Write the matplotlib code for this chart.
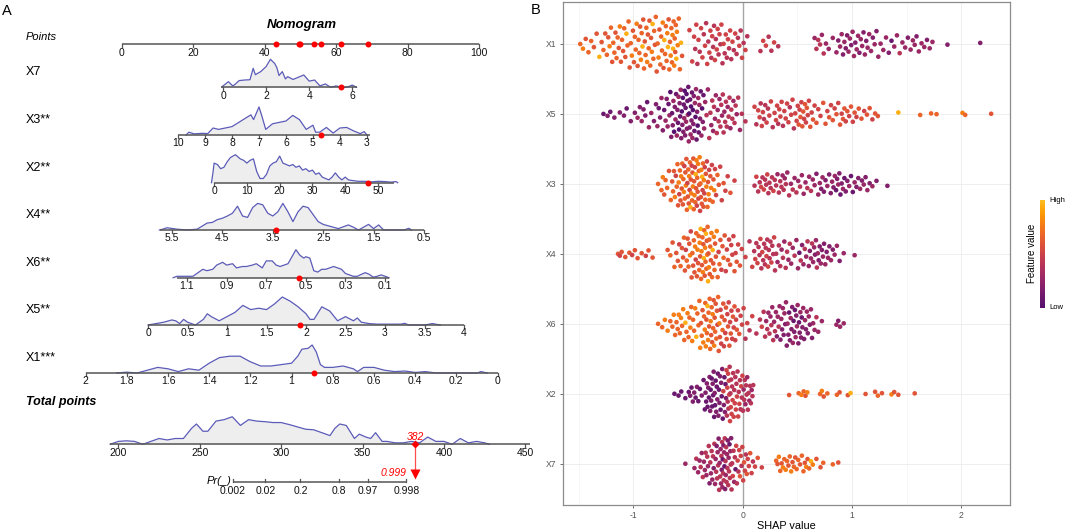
import numpy as np
import matplotlib.pyplot as plt
from matplotlib.colors import ListedColormap, Normalize
from matplotlib.colorbar import ColorbarBase

plt.rcParams['font.family'] = ['Liberation Sans', 'DejaVu Sans']
plt.rcParams['axes.unicode_minus'] = False

# ---------------- nomogram (panel A) ----------------
# each scale: (value, points) at two ends, ticks, drawn range, density, observed value
x7_anchor = [(0, 28.3), (6, 64.5)]
x7_ticks = [0, 2, 4, 6]
x7_range = (-0.1, 6.2)
x7_value = 5.46
x7_density = [(-0.05, 0), (0, .05), (.25, .2), (.45, .05), (.55, .1), (.75, .24), (1.0, .26), (1.25, .27),
              (1.4, .68), (1.5, .45), (1.75, .56), (2.0, .74), (2.2, 1.0), (2.4, .85), (2.5, .7), (2.6, .42),
              (2.75, .56), (2.9, .3), (3.0, .38), (3.25, .28), (3.5, .36), (3.75, .44), (4.0, .22), (4.25, .26),
              (4.5, .05), (4.75, .12), (5.0, 0), (5.25, .05), (5.5, 0), (5.75, 0), (6.0, .08), (6.2, 0)]

x3_anchor = [(10, 15.7), (3, 68.6)]
x3_ticks = [10, 9, 8, 7, 6, 5, 4, 3]
x3_range = (10, 2.9)
x3_value = 4.7
x3_density = [(9.7, 0), (9.6, .1), (9.4, .04), (9.1, .06), (8.9, .05), (8.7, .25), (8.5, .2), (8.25, .25),
              (8.0, .3), (7.75, .45), (7.5, .6), (7.3, .72), (7.2, .55), (7.0, 1.0), (6.9, .7), (6.75, .2),
              (6.5, .4), (6.25, .45), (6.0, .5), (5.75, .7), (5.5, .55), (5.25, .2), (5.0, .35), (4.9, .1),
              (4.75, .1), (4.5, .27), (4.25, .07), (4.0, .25), (3.75, .27), (3.5, .15), (3.25, .05),
              (3.1, .12), (3.0, 0)]

x2_anchor = [(0, 25.8), (50, 71.7)]
x2_ticks = [0, 10, 20, 30, 40, 50]
x2_range = (0, 55)
x2_value = 47.0
x2_density = [(-0.8, 0), (-0.3, .4), (0, .7), (1, .65), (2, .5), (3, .55), (4, .75), (5, .9), (6.5, 1.0),
              (8, .85), (9, .8), (10, .7), (11, .8), (12, .85), (13, .4), (14, .15), (15, .15), (16, .3),
              (17, .6), (18, .7), (19, .75), (20, .95), (21, .7), (22, .65), (23, .6), (24, .65), (25, .55),
              (26, .6), (27, .45), (28, .5), (29, .4), (30, .45), (31, .3), (32, .35), (33, .2), (34, .15),
              (35, .1), (36, .2), (37, .35), (38, .2), (39, .1), (40, .2), (41, .1), (42, .08), (44, .05),
              (46, .05), (48, .03), (50, .05), (52, .04), (54, .02), (55.5, .04), (56, 0)]

x4_anchor = [(5.5, 14.0), (0.5, 84.6)]
x4_ticks = [5.5, 4.5, 3.5, 2.5, 1.5, 0.5]
x4_range = (5.73, 0.5)
x4_value = 3.44
x4_density = [(5.75, 0), (5.7, .02), (5.6, .08), (5.4, .03), (5.2, 0), (5.0, .03), (4.8, .25), (4.7, .27),
              (4.6, .37), (4.5, .42), (4.4, .5), (4.3, .6), (4.2, .85), (4.1, .5), (4.0, .45), (3.9, .8),
              (3.8, .95), (3.7, .9), (3.6, .6), (3.5, .5), (3.4, .65), (3.3, .95), (3.2, .65), (3.1, .3),
              (3.0, .65), (2.9, .85), (2.8, .8), (2.7, .55), (2.6, .3), (2.5, .2), (2.4, .15), (2.2, .05),
              (2.0, .18), (1.9, .1), (1.8, 0), (1.7, .1), (1.6, .2), (1.5, .05), (1.4, .18), (1.3, 0),
              (0.9, 0), (0.8, .06), (0.75, 0)]

x6_anchor = [(1.1, 18.2), (0.1, 73.7)]
x6_ticks = [1.1, 0.9, 0.7, 0.5, 0.3, 0.1]
x6_range = (1.15, 0.08)
x6_value = 0.535
x6_density = [(1.17, 0), (1.15, .05), (1.1, .05), (1.07, .05), (1.05, .15), (1.02, .3), (1.0, .25),
              (0.97, .3), (0.95, .45), (0.92, .55), (0.9, .45), (0.87, .5), (0.85, .35), (0.82, .4),
              (0.8, .4), (0.77, .45), (0.75, .5), (0.72, .35), (0.7, .6), (0.67, .6), (0.65, .45),
              (0.63, .4), (0.61, .45), (0.59, .5), (0.57, .75), (0.55, 1.0), (0.53, .8), (0.51, .7),
              (0.5, .75), (0.48, .7), (0.46, .25), (0.44, .2), (0.42, .3), (0.4, .3), (0.38, .35),
              (0.36, .4), (0.34, .35), (0.32, .3), (0.3, .15), (0.28, .1), (0.26, .05), (0.24, .05),
              (0.22, .12), (0.2, .18), (0.18, .12), (0.16, .02), (0.14, .05), (0.12, .1), (0.1, .05), (0.08, 0)]

x5_anchor = [(0, 7.3), (4, 95.8)]
x5_ticks = [0, 0.5, 1, 1.5, 2, 2.5, 3, 3.5, 4]
x5_range = (0, 4)
x5_value = 1.92
x5_density = [(0, 0), (0.1, .05), (0.2, .1), (0.3, .18), (0.35, .15), (0.4, .05), (0.45, .2), (0.5, .1),
              (0.6, 0), (0.7, .2), (0.75, .4), (0.8, .3), (0.9, .15), (1.0, .3), (1.1, .45), (1.2, .7),
              (1.3, .55), (1.4, .6), (1.5, .55), (1.6, .75), (1.7, 1.0), (1.8, .85), (1.9, .65), (2.0, .4),
              (2.05, .2), (2.1, .2), (2.2, .65), (2.3, .5), (2.4, .15), (2.5, .3), (2.6, .15), (2.65, .25),
              (2.7, .1), (2.8, .05), (2.9, .03), (3.0, .03), (3.2, .03), (3.25, .06), (3.3, 0), (3.5, 0),
              (3.6, .05), (3.7, 0)]

x1_anchor = [(2, -10.2), (0, 105.2)]
x1_ticks = [2, 1.8, 1.6, 1.4, 1.2, 1, 0.8, 0.6, 0.4, 0.2, 0]
x1_range = (2, 0)
x1_value = 0.89
x1_density = [(1.85, 0), (1.8, .03), (1.75, 0), (1.7, .1), (1.65, .2), (1.6, .15), (1.55, .05), (1.5, .15),
              (1.45, .1), (1.4, .35), (1.35, .55), (1.3, .6), (1.25, .6), (1.2, .4), (1.15, .25), (1.1, .25),
              (1.05, .3), (1.0, .35), (0.97, .6), (0.95, .85), (0.92, .88), (0.9, 1.0), (0.88, .75),
              (0.86, .3), (0.84, .2), (0.8, .2), (0.75, .25), (0.7, .15), (0.68, .05), (0.65, .2), (0.6, .2),
              (0.55, .1), (0.5, .05), (0.45, .07), (0.4, .02), (0.35, .05), (0.3, 0), (0.1, 0), (0.08, .05),
              (0.05, 0)]

total_anchor = [(200, -1.04), (450, 113.0)]
total_ticks = [200, 250, 300, 350, 400, 450]
total_range = (195, 460)
total_density = [(195, 0), (200, .1), (205, .12), (210, .1), (215, 0), (220, .1), (225, .2), (230, .15),
                 (235, .2), (240, .2), (245, .55), (248, .7), (252, .45), (255, .45), (260, .8), (265, .85),
                 (270, .95), (275, .65), (280, .85), (285, .8), (290, .78), (295, .75), (300, .75),
                 (305, .68), (310, .6), (315, .52), (320, .5), (325, .4), (330, .3), (333, .55), (336, .7),
                 (340, .65), (345, .2), (348, .35), (352, .25), (355, .2), (358, .4), (362, .1), (365, .1),
                 (370, .05), (375, .05), (380, .1), (385, .05), (390, .25), (395, .1), (400, .1), (405, 0),
                 (410, .2), (415, .05), (420, .1), (425, .05), (428, 0)]

# total points -> linear predictor (logit)
pr_center = 323.7
pr_slope = 8.57
pr_ticks = [0.002, 0.02, 0.2, 0.8, 0.97, 0.998]

var_labels = ['X7', 'X3**', 'X2**', 'X4**', 'X6**', 'X5**', 'X1***']

# ---------------- SHAP beeswarm (panel B) ----------------
# one string per 0.05 bin of SHAP value, one digit per observation = feature level (0 low .. 9 high)
shap_features = ['X1', 'X5', 'X3', 'X4', 'X6', 'X2', 'X7']
feature_levels = [0.0, 0.08, 0.18, 0.28, 0.40, 0.50, 0.60, 0.67, 0.77, 0.95]
x1_start = -1.50
x1_bins = ['78', '67', '76', '69', '676', '7687', '67767', '76867', '67697', '76786', '677867', '7687967',
           '6778676', '7689776', '767867', '7786977', '78967787', '7897876798', '87796', '', '55', '54545',
           '4554', '54545', '545445', '455454', '54545', '45454', '5454', '4545', '454', '', '', '45', '54',
           '45', '4', '', '', '', '', '', '', '344', '434', '33', '3', '323', '3232', '2332', '3323', '3233',
           '2323', '332', '323', '33', '32', '13', '34', '33', '23', '332', '33', '32', '33', '', '', '2',
           '', '', '', '', '', '2']
x5_start = -1.30
x5_bins = ['1', '21', '2', '2', '21', '2', '23', '232', '213', '32', '2312', '3213', '231302', '12302313',
           '2130213202', '021302130213', '130213021302', '2130312031', '32130213', '3434', '434343',
           '343434', '4344344', '434434', '43443', '434', '4', '', '545', '54554', '4545', '545', '55455',
           '5455', '5545', '5455', '565656', '656565', '5656', '565', '56', '656', '565', '656', '5665',
           '656', '565', '66', '56', '65', '66', '', '', '', '9', '', '', '', '7', '', '7', '7', '', '', '',
           '', '87', '', '', '', '', '6']
x3_start = -0.80
x3_bins = ['7', '7867', '767', '676857', '768576867', '67857686756', '7685796857686', '76857968576857',
           '6857686957685', '5768576857', '6857685', '5765', '565', '56', '5', '', '', '', '454', '4545',
           '44544', '4454', '4344', '43434', '343', '434', '343', '334', '343', '323', '3232', '232',
           '2323', '12321', '2312', '231', '132', '232', '323', '23', '2', '', '2']
x4_start = -1.15
x4_bins = ['656', '6', '65', '66', '6', '56', '6', '', '', '67', '676', '6576', '676576', '7685676',
           '768576867', '786978678697', '6879768796876', '768796876', '687576', '56765', '56565', '55656',
           '565', '5', '45', '45454', '454544', '4454544', '454454', '4344', '3434', '4343', '343', '3142',
           '3434', '32343', '323432', '23232', '3232', '323', '32', '3', '', '3']
x6_start = -0.80
x6_bins = ['7', '78', '87', '7877', '78787', '87978', '778787', '78977', '7867687', '8786798767',
           '78676876867', '676576865', '56765656', '65656565', '5656556', '5655', '545', '45', '4', '454',
           '43434', '343434', '323432', '3232323', '2321232', '23121323', '32123212', '323232', '32323',
           '343', '3', '', '', '323', '3']
x2_start = -0.65
x2_bins = ['1', '11', '1', '1212', '2121', '121', '12121212', '21211212121', '1212121221', '2121521212',
           '54545455454545', '4545454545', '454544545', '434434434', '4344344', '', '', '', '', '', '',
           '6', '', '78', '768', '', '', '786', '7', '', '76', '', '69', '', '', '6', '', '67', '6', '',
           '86', '6', '', '', '6']
x7_start = -0.55
x7_bins = ['3', '', '343', '34343', '3434342', '43434243', '34243424343', '3424314243142434',
           '4342434143424', '45434154', '5456545', '565465', '5654', '56', '5', '', '', '7687', '6878',
           '7678', '6767', '767', '7686', '798', '6', '67', '', '7', '6']
shap_bin_width = 0.05

shap_data = [(x1_start, x1_bins), (x5_start, x5_bins), (x3_start, x3_bins), (x4_start, x4_bins),
             (x6_start, x6_bins), (x2_start, x2_bins), (x7_start, x7_bins)]

# ================= figure =================
W, H = 1068, 530
fig = plt.figure(figsize=(W / 100, H / 100), dpi=100)

# ---- panel A: single axes, x in "Points" units, y in pixel rows ----
axl = fig.add_axes([0, 0, 530 / W, 1])
axl.set_xlim(-122 / 3.57, 408 / 3.57)
axl.set_ylim(H, 0)
axl.axis('off')

line_col = '#555555'
dens_col = '#5b5bb8'
fill_col = '#eeeeee'
red = '#ff0000'


def to_pts(anchor, v):
    (v0, p0), (v1, p1) = anchor
    return p0 + (np.asarray(v, dtype=float) - v0) * (p1 - p0) / (v1 - v0)


def fmt(v):
    return f'{v:g}'


def draw_scale(anchor, ticks, rng, base, density=None, height=28, tick_dir=1):
    xa, xb = to_pts(anchor, rng[0]), to_pts(anchor, rng[1])
    if density is not None:
        dv = np.array([d[0] for d in density])
        dh = np.array([d[1] for d in density])
        xs = to_pts(anchor, dv)
        axl.fill_between(xs, base - height * dh, base, color=fill_col, lw=0, zorder=1)
        axl.plot(xs, base - height * dh, color=dens_col, lw=0.9, zorder=2)
    axl.plot([xa, xb], [base, base], color=line_col, lw=1.1, zorder=3, solid_capstyle='butt')
    for t in ticks:
        xt = to_pts(anchor, t)
        axl.plot([xt, xt], [base, base + 3 * tick_dir], color=line_col, lw=0.9, zorder=3)
        axl.text(xt, base + 8.3, fmt(t), ha='center', va='center', fontsize=7.5, color='#111111')


label_x = -122 / 3.57 + 26 / 3.57
axl.text(301.7 / 3.57 - 122 / 3.57, 25, 'Nomogram', ha='center', va='center', fontsize=9.5,
         fontweight='bold', fontstyle='italic')
axl.text(label_x, 37.5, 'Points', ha='left', va='center', fontsize=8, fontstyle='italic')

points_anchor = [(0, 0), (100, 100)]
draw_scale(points_anchor, [0, 20, 40, 60, 80, 100], (0, 100), 44.3)

scales = [
    (x7_anchor, x7_ticks, x7_range, x7_value, x7_density),
    (x3_anchor, x3_ticks, x3_range, x3_value, x3_density),
    (x2_anchor, x2_ticks, x2_range, x2_value, x2_density),
    (x4_anchor, x4_ticks, x4_range, x4_value, x4_density),
    (x6_anchor, x6_ticks, x6_range, x6_value, x6_density),
    (x5_anchor, x5_ticks, x5_range, x5_value, x5_density),
    (x1_anchor, x1_ticks, x1_range, x1_value, x1_density),
]
row_base = [87.3, 135, 182.7, 230, 277.7, 325, 373]

points_obs = []
for (anchor, ticks, rng, val, dens), base, lab in zip(scales, row_base, var_labels):
    draw_scale(anchor, ticks, rng, base, density=dens)
    axl.text(label_x, base - 15, lab, ha='left', va='center', fontsize=9)
    p = float(to_pts(anchor, val))
    points_obs.append(p)
    axl.plot(p, base, 'o', color=red, ms=4.3, mec='none', zorder=5)

for p in points_obs:
    axl.plot(p, 44.3, 'o', color=red, ms=4.3, mec='none', zorder=5)

# total points
total = sum(points_obs)
axl.text(label_x, 401.7, 'Total points', ha='left', va='center', fontsize=9,
         fontweight='bold', fontstyle='italic')
draw_scale(total_anchor, total_ticks, total_range, 444.3, density=total_density, height=29)
xt_total = float(to_pts(total_anchor, total))
axl.plot(xt_total, 444.3, 'D', color=red, ms=4.5, mec='none', zorder=6)
axl.text(xt_total, 437, f'{total:.0f}', color=red, fontsize=7.5, fontstyle='italic',
         ha='center', va='center', zorder=7)


# probability axis (logit spacing)
def pr_to_x(p):
    p = np.asarray(p, dtype=float)
    return to_pts(total_anchor, pr_center + pr_slope * np.log(p / (1 - p)))


pr_base = 482.3
xa, xb = pr_to_x(pr_ticks[0]), pr_to_x(pr_ticks[-1])
axl.plot([xa, xb], [pr_base, pr_base], color=line_col, lw=1.1, solid_capstyle='butt')
for t in pr_ticks:
    xt = float(pr_to_x(t))
    axl.plot([xt, xt], [pr_base, pr_base - 3], color=line_col, lw=0.9)
    axl.text(xt, pr_base + 8.5, fmt(t), ha='center', va='center', fontsize=7.5, color='#111111')
axl.annotate('Pr(_)', (xa, 480.5), xytext=(-1, 0), textcoords='offset points',
             ha='right', va='center', fontsize=8, fontstyle='italic')

prob = 1 / (1 + np.exp(-(total - pr_center) / pr_slope))
axl.plot([xt_total, xt_total], [444.3, 471], color='#ff4d4d', lw=0.9, zorder=5)
axl.plot(xt_total, 474, 'v', color=red, ms=6.5, mec='none', zorder=6)
axl.annotate(f'{prob:.3f}', (xt_total, 473.5), xytext=(-6, 0), textcoords='offset points',
             color=red, fontsize=7.5, fontstyle='italic', ha='right', va='center')

fig.text(2 / W, 1 - 11 / H, 'A', fontsize=10.5, ha='left', va='center')
fig.text(531 / W, 1 - 10 / H, 'B', fontsize=10.5, ha='left', va='center')

# ---- panel B: SHAP beeswarm (quasirandom spread scaled by density) ----
axr = fig.add_axes([562.5 / W, 25 / H, 447 / W, 503 / H])
bee_width = 0.4

cmap = ListedColormap(plt.cm.inferno(np.linspace(0.25, 0.85, 256)))


def van_der_corput(n, base=2):
    seq = np.zeros(n)
    for i in range(n):
        k, f, r = i + 1, 1.0, 0.0
        while k > 0:
            f /= base
            r += f * (k % base)
            k //= base
        seq[i] = r
    return seq


def bee_offsets(x, width):
    n = len(x)
    sd = np.std(x, ddof=1)
    q75, q25 = np.percentile(x, [75, 25])
    bw = 0.9 * min(sd, (q75 - q25) / 1.34) * n ** -0.2
    dens = np.exp(-0.5 * ((x[:, None] - x[None, :]) / bw) ** 2).sum(axis=1)
    dens /= dens.max()
    ranks = np.argsort(np.argsort(x, kind='stable'), kind='stable')
    q = van_der_corput(n)[ranks]
    return (2 * q - 1) * width * dens


n_rows = len(shap_features)
for k, (start, bins) in enumerate(shap_data):
    row = n_rows - k
    xs, fv = [], []
    for j, s in enumerate(bins):
        lo = start + j * shap_bin_width
        m = len(s)
        for q, ch in enumerate(s):
            xs.append(lo + (q + 0.5) / m * shap_bin_width)
            fv.append(feature_levels[int(ch)])
    xs = np.array(xs)
    offs = bee_offsets(xs, bee_width)
    axr.scatter(xs, row + offs, c=fv, cmap=cmap, vmin=0, vmax=1, s=11,
                linewidths=0, zorder=3)

axr.set_xlim(-1.65, 2.443)
axr.set_ylim(0.41, 7.6)
axr.set_xticks([-1, 0, 1, 2])
axr.set_xticks([-1.5, -0.5, 0.5, 1.5], minor=True)
axr.set_yticks(range(n_rows, 0, -1))
axr.set_yticklabels(shap_features)
axr.grid(True, which='major', color='#ebebeb', lw=0.6, zorder=0)
axr.grid(True, which='minor', axis='x', color='#f3f3f3', lw=0.45, zorder=0)
axr.set_axisbelow(True)
axr.axvline(0, color='#a6a6a6', lw=1.0, zorder=1)
axr.tick_params(which='major', length=2.5, width=0.6, color='#555555', labelsize=6.2,
                labelcolor='#555555', pad=2)
axr.tick_params(which='minor', length=0)
for sp in axr.spines.values():
    sp.set_color('#8c8c8c')
    sp.set_linewidth(0.9)
axr.set_xlabel('SHAP value', fontsize=7.8, labelpad=0.5)

cax = fig.add_axes([1040 / W, 1 - 307.5 / H, 5 / W, 107.5 / H])
cb = ColorbarBase(cax, cmap=cmap, norm=Normalize(0, 1))
cb.outline.set_visible(False)
cax.set_xticks([])
cax.set_yticks([])
fig.text(1049 / W, 1 - 200 / H, 'High', fontsize=5.5, ha='left', va='center')
fig.text(1049 / W, 1 - 307.5 / H, 'Low', fontsize=5.5, ha='left', va='center')
fig.text(1032 / W, 1 - 253 / H, 'Feature value', fontsize=7, rotation=90, ha='center', va='center')

fig.savefig('out.png', dpi=100)
